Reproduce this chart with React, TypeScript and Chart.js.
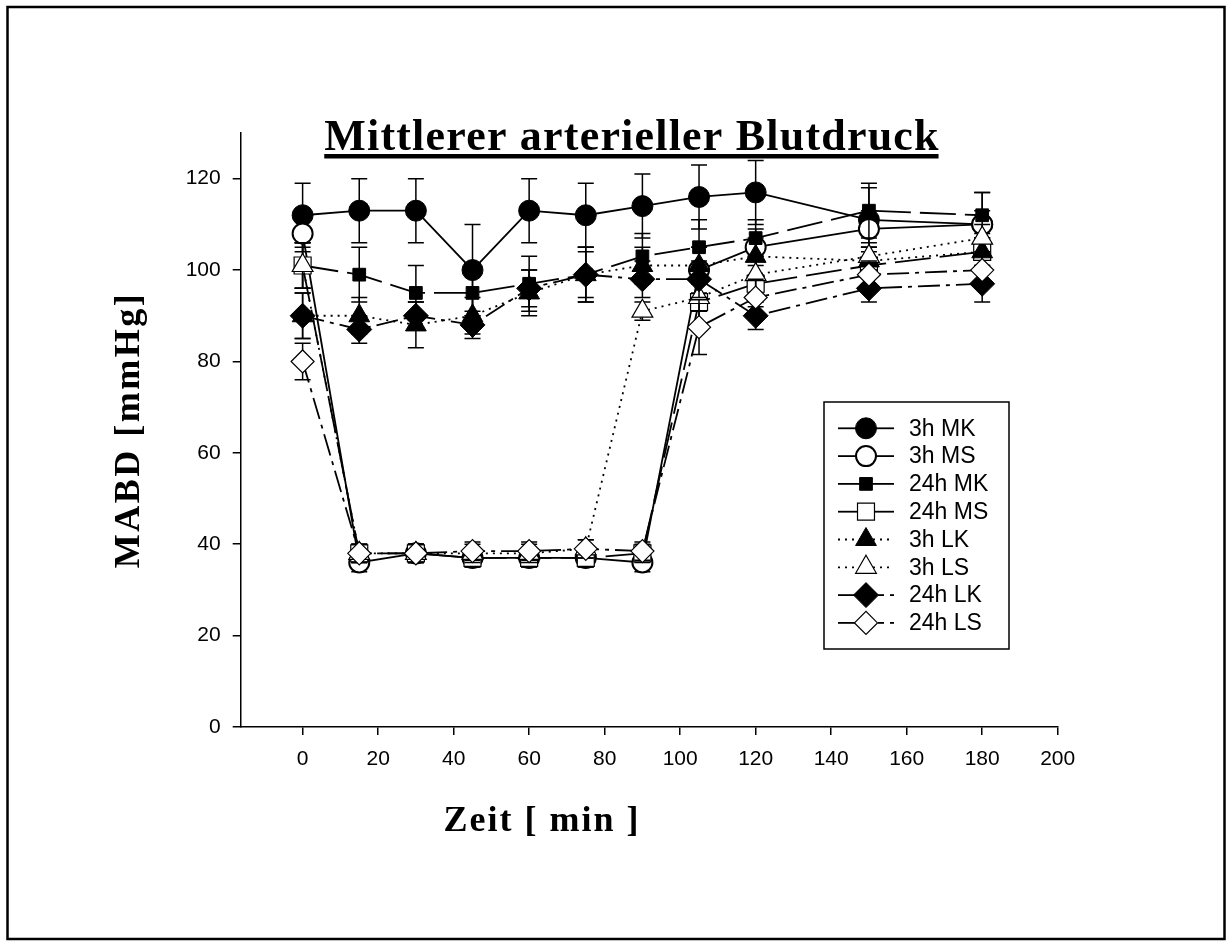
import React, { useEffect, useRef } from "react";
import { Chart, registerables } from "chart.js";

Chart.register(...registerables);

// ---------- data ----------
const timePoints = [0, 15, 30, 45, 60, 75, 90, 105, 120, 150, 180];
const xTickValues = [0, 20, 40, 60, 80, 100, 120, 140, 160, 180, 200];
const yTickValues = [0, 20, 40, 60, 80, 100, 120];
const seriesNames = ["3h MK", "3h MS", "24h MK", "24h MS", "3h LK", "3h LS", "24h LK", "24h LS"];

const mk3h = [112, 113, 113, 100, 113, 112, 114, 116, 117, 111, 110];
const mk3hErr = [7, 7, 7, 10, 7, 7, 7, 7, 7, 7, 7];
const ms3h = [108, 36, 38, 37, 37, 37, 36, 100, 105, 109, 110];
const ms3hErr = [4, 2, 2, 2, 2, 2, 2, 5, 4, 4, 3];
const mk24h = [101, 99, 95, 95, 97, 99, 103, 105, 107, 113, 112];
const mk24hErr = [5, 6, 6, 5, 6, 6, 5, 6, 4, 6, 5];
const ms24h = [101, 38, 38, 37, 37, 37, 38, 93, 97, 101, 104];
const ms24hErr = [5, 2, 2, 2, 2, 2, 2, 5, 5, 4, 4];
const lk3h = [90, 90, 88, 90, 95, 99, 101, 101, 103, 102, 104];
const lk3hErr = [5, 4, 5, 4, 5, 6, 4, 4, 4, 3, 3];
const ls3h = [101, 38, 38, 38, 38, 39, 91, 94, 99, 103, 107];
const ls3hErr = [5, 2, 2, 2, 2, 2, 2, 3, 4, 3, 3];
const lk24h = [90, 87, 90, 88, 96, 99, 98, 98, 90, 96, 97];
const lk24hErr = [5, 3, 3, 3, 4, 5, 4, 4, 3, 3, 4];
const ls24h = [80, 38, 38, 38.5, 38.5, 39, 38.5, 87.5, 94, 99, 100];
const ls24hErr = [4, 2, 2, 2, 2, 2, 2, 6, 4, 3, 3];

const seriesValues = [mk3h, ms3h, mk24h, ms24h, lk3h, ls3h, lk24h, ls24h];
const seriesErrors = [mk3hErr, ms3hErr, mk24hErr, ms24hErr, lk3hErr, ls3hErr, lk24hErr, ls24hErr];

const chartTitle = "Mittlerer arterieller Blutdruck";
const xTitle = "Zeit [ min ]";
const yTitle = "MABD [mmHg]";

// ---------- styles ----------
const DOT = [2, 5];
const LONGDASH = [36, 9];
const DASHDOT = [22, 6, 4, 6];

type Shape = "circle" | "rect" | "triangle" | "rectRot";
interface SeriesStyle {
  shape: Shape;
  filled: boolean;
  r: number;
  bw: number;
  dash: number[];
  legendL: number[];
  legendR: number[];
}
const styles: SeriesStyle[] = [
  { shape: "circle", filled: true, r: 10.5, bw: 1, dash: [], legendL: [], legendR: [] },
  { shape: "circle", filled: false, r: 10, bw: 2, dash: [], legendL: [], legendR: [] },
  { shape: "rect", filled: true, r: 9, bw: 1, dash: LONGDASH, legendL: [], legendR: [] },
  { shape: "rect", filled: false, r: 12, bw: 1.2, dash: LONGDASH, legendL: [], legendR: [] },
  { shape: "triangle", filled: true, r: 12, bw: 1, dash: DOT, legendL: DOT, legendR: DOT },
  { shape: "triangle", filled: false, r: 12, bw: 1.2, dash: DOT, legendL: DOT, legendR: DOT },
  { shape: "rectRot", filled: true, r: 12.5, bw: 1, dash: DASHDOT, legendL: [], legendR: [6, 6] },
  { shape: "rectRot", filled: false, r: 11.5, bw: 1.2, dash: DASHDOT, legendL: [], legendR: [6, 6] },
];

const SANS = '"Liberation Sans", Arial, sans-serif';
const SERIF = '"Liberation Serif", "Times New Roman", serif';

function markerPath(ctx: CanvasRenderingContext2D, shape: Shape, x: number, y: number, r: number) {
  ctx.beginPath();
  if (shape === "circle") {
    ctx.arc(x, y, r, 0, Math.PI * 2);
  } else if (shape === "rect") {
    const s = r * Math.SQRT1_2;
    ctx.rect(x - s, y - s, 2 * s, 2 * s);
  } else if (shape === "triangle") {
    ctx.moveTo(x, y - r);
    ctx.lineTo(x + r * 0.866, y + r * 0.5);
    ctx.lineTo(x - r * 0.866, y + r * 0.5);
    ctx.closePath();
  } else {
    ctx.moveTo(x - r, y);
    ctx.lineTo(x, y - r);
    ctx.lineTo(x + r, y);
    ctx.lineTo(x, y + r);
    ctx.closePath();
  }
}

const errorBarPlugin = {
  id: "errorBars",
  beforeDatasetDraw(chart: any, args: any) {
    const i = args.index;
    const vals = seriesValues[i];
    const errs = seriesErrors[i];
    const xs = chart.scales.x;
    const ys = chart.scales.y;
    const ctx: CanvasRenderingContext2D = chart.ctx;
    ctx.save();
    ctx.strokeStyle = "#000";
    ctx.lineWidth = 1.5;
    ctx.setLineDash([]);
    timePoints.forEach((t, k) => {
      const px = xs.getPixelForValue(t);
      const top = ys.getPixelForValue(vals[k] + errs[k]);
      const bot = ys.getPixelForValue(vals[k] - errs[k]);
      ctx.beginPath();
      ctx.moveTo(px, top);
      ctx.lineTo(px, bot);
      ctx.moveTo(px - 8, top);
      ctx.lineTo(px + 8, top);
      ctx.moveTo(px - 8, bot);
      ctx.lineTo(px + 8, bot);
      ctx.stroke();
    });
    ctx.restore();
  },
};

const decorPlugin = {
  id: "decor",
  afterDraw(chart: any) {
    const ctx: CanvasRenderingContext2D = chart.ctx;
    ctx.save();
    // outer frame
    ctx.strokeStyle = "#000";
    ctx.lineWidth = 2.5;
    ctx.setLineDash([]);
    ctx.strokeRect(7.5, 7, 1217, 932);

    // title
    ctx.fillStyle = "#000";
    ctx.font = `bold 44px ${SERIF}`;
    (ctx as any).letterSpacing = "1.2px";
    ctx.textAlign = "left";
    ctx.textBaseline = "alphabetic";
    const tw = ctx.measureText(chartTitle).width;
    const tx = 632 - tw / 2;
    ctx.fillText(chartTitle, tx, 150);
    ctx.fillRect(tx, 154, tw - 1.2, 4.5);

    // x title
    ctx.font = `bold 36px ${SERIF}`;
    (ctx as any).letterSpacing = "2px";
    ctx.textAlign = "center";
    ctx.textBaseline = "middle";
    ctx.fillText(xTitle, 542, 822);

    // y title
    (ctx as any).letterSpacing = "2.5px";
    ctx.save();
    ctx.translate(130, 430);
    ctx.rotate(-Math.PI / 2);
    ctx.fillText(yTitle, 0, 0);
    ctx.restore();
    (ctx as any).letterSpacing = "0px";

    // legend
    ctx.lineWidth = 1.5;
    ctx.strokeRect(824, 402, 185, 247);
    const rowY0 = 428.3;
    const rowStep = 27.8;
    ctx.font = `23px ${SANS}`;
    ctx.textAlign = "left";
    ctx.textBaseline = "middle";
    styles.forEach((st, i) => {
      const y = rowY0 + i * rowStep;
      const cx = 866;
      ctx.strokeStyle = "#000";
      ctx.lineWidth = 1.8;
      ctx.setLineDash(st.legendL);
      ctx.beginPath();
      ctx.moveTo(838, y);
      ctx.lineTo(cx, y);
      ctx.stroke();
      ctx.setLineDash(st.legendR);
      ctx.beginPath();
      ctx.moveTo(cx, y);
      ctx.lineTo(894, y);
      ctx.stroke();
      ctx.setLineDash([]);
      markerPath(ctx, st.shape, cx, y, st.r);
      ctx.fillStyle = st.filled ? "#000" : "#fff";
      ctx.fill();
      ctx.lineWidth = st.bw;
      ctx.stroke();
      ctx.fillStyle = "#000";
      ctx.fillText(seriesNames[i], 909, y + 1);
    });
    ctx.restore();
  },
};

export default function App() {
  const ref = useRef<HTMLCanvasElement | null>(null);
  useEffect(() => {
    if (!ref.current) return;
    const datasets = seriesNames.map((name, i) => {
      const st = styles[i];
      return {
        label: name,
        data: timePoints.map((t, k) => ({ x: t, y: seriesValues[i][k] })),
        borderColor: "#000",
        borderWidth: 1.8,
        borderDash: st.dash,
        backgroundColor: "#000",
        pointStyle: st.shape,
        pointRadius: st.r,
        pointHoverRadius: st.r,
        pointBackgroundColor: st.filled ? "#000" : "#fff",
        pointBorderColor: "#000",
        pointBorderWidth: st.bw,
        tension: 0,
        fill: false,
        order: seriesNames.length - i,
        clip: false as any,
      };
    });
    const chart = new Chart(ref.current, {
      type: "line",
      data: { datasets },
      options: {
        animation: false,
        responsive: false,
        devicePixelRatio: 1,
        events: [],
        layout: { padding: { left: 180.7, right: 169.3, top: 133, bottom: 177 } },
        plugins: { legend: { display: false }, title: { display: false }, tooltip: { enabled: false } },
        scales: {
          x: {
            type: "linear",
            min: -16.4,
            max: 200,
            afterBuildTicks: (s: any) => {
              s.ticks = xTickValues.map((v) => ({ value: v }));
            },
            afterFit: (s: any) => {
              s.height = 40;
            },
            grid: { drawOnChartArea: false, drawTicks: true, tickLength: 8, color: "#000", lineWidth: 1.5 },
            border: { display: true, color: "#000", width: 1.5 },
            ticks: {
              autoSkip: false,
              maxRotation: 0,
              color: "#000",
              padding: 12,
              font: { family: SANS, size: 21 },
            },
          },
          y: {
            type: "linear",
            min: 0,
            max: 130,
            afterBuildTicks: (s: any) => {
              s.ticks = yTickValues.map((v) => ({ value: v }));
            },
            afterFit: (s: any) => {
              s.width = 60;
            },
            grid: { drawOnChartArea: false, drawTicks: true, tickLength: 8, color: "#000", lineWidth: 1.5 },
            border: { display: true, color: "#000", width: 1.5 },
            ticks: {
              autoSkip: false,
              color: "#000",
              padding: 12,
              font: { family: SANS, size: 21 },
            },
          },
        },
      },
      plugins: [errorBarPlugin, decorPlugin],
    });
    return () => chart.destroy();
  }, []);
  return (
    <div style={{ position: "absolute", left: 0, top: 0, width: 1227, height: 944, background: "#fff" }}>
      <canvas ref={ref} width={1227} height={944} style={{ display: "block", width: 1227, height: 944 }} />
    </div>
  );
}
